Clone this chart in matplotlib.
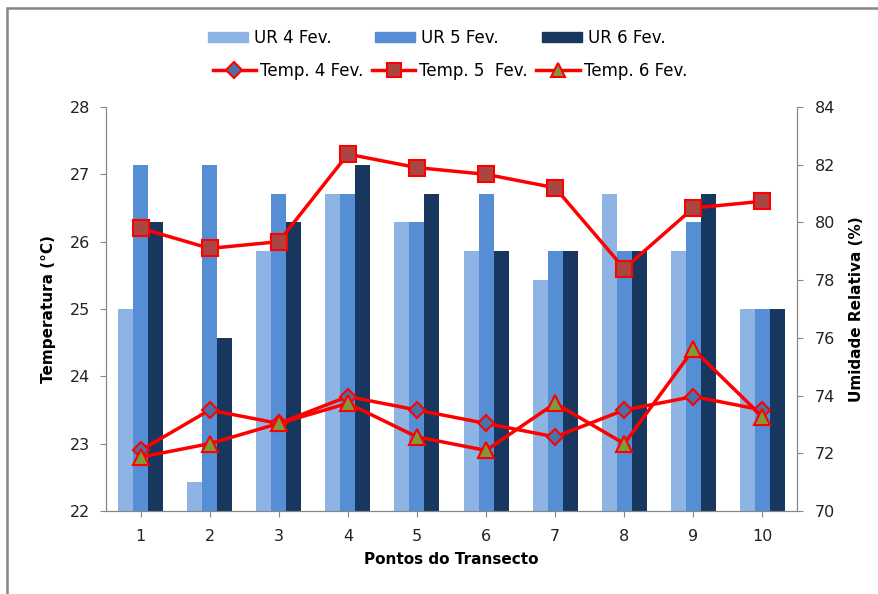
import numpy as np
import matplotlib.pyplot as plt
from matplotlib.lines import Line2D
from matplotlib.patches import Patch, Rectangle

plt.rcParams['font.family'] = ['DejaVu Sans']

# Data
pontos = [1, 2, 3, 4, 5, 6, 7, 8, 9, 10]
ur_4 = [77, 71, 79, 81, 80, 79, 78, 81, 79, 77]
ur_5 = [82, 82, 81, 81, 80, 81, 79, 79, 80, 77]
ur_6 = [80, 76, 80, 82, 81, 79, 79, 79, 81, 77]
temp_4 = [22.9, 23.5, 23.3, 23.7, 23.5, 23.3, 23.1, 23.5, 23.7, 23.5]
temp_5 = [26.2, 25.9, 26.0, 27.3, 27.1, 27.0, 26.8, 25.6, 26.5, 26.6]
temp_6 = [22.8, 23.0, 23.3, 23.6, 23.1, 22.9, 23.6, 23.0, 24.4, 23.4]

gray = '#868686'
txt = '#222222'
c_ur = ['#8EB4E3', '#558ED5', '#17375E']
red = '#FF0000'

fig = plt.figure(figsize=(8.79, 5.94), dpi=100)
ax = fig.add_axes([106 / 879, 1 - 511 / 594, (797 - 106) / 879, (511 - 107) / 594])
ax2 = ax.twinx()

# bars (relative humidity) on the secondary axis, behind the lines
x = np.arange(len(pontos))
w = 0.217
for i, (vals, col) in enumerate(zip([ur_4, ur_5, ur_6], c_ur)):
    ax2.bar(x + (i - 1) * w, np.array(vals) - 70, bottom=70, width=w, color=col, zorder=2)
ax2.set_ylim(70, 84)
ax2.set_yticks(range(70, 85, 2))

ax.set_zorder(ax2.get_zorder() + 1)
ax.patch.set_visible(False)

# temperature lines
ax.plot(x, temp_4, color=red, lw=2.5, marker='D', ms=8, mfc='#4A72A8', mec=red, mew=1.5, zorder=5)
ax.plot(x, temp_5, color=red, lw=2.5, marker='s', ms=11, mfc='#AA4542', mec=red, mew=1.5, zorder=5)
ax.plot(x, temp_6, color=red, lw=2.5, marker='^', ms=11, mfc='#7F9A3A', mec=red, mew=1.5, zorder=5)
ax.set_ylim(22, 28)
ax.set_xlim(-0.5, len(pontos) - 0.5)
ax.set_xticks(x)
ax.set_xticklabels([str(p) for p in pontos])

for a in (ax, ax2):
    a.spines['top'].set_visible(False)
    for s in ('left', 'right', 'bottom'):
        a.spines[s].set_color(gray)
ax.tick_params(axis='y', colors=gray, labelcolor=txt, labelsize=11.5, length=4.5, pad=7)
ax.tick_params(axis='x', colors=gray, labelcolor=txt, labelsize=11.5, length=4, pad=9)
ax2.tick_params(axis='y', colors=gray, labelcolor=txt, labelsize=11.5, length=4, pad=9)

ax.set_ylabel('Temperatura (°C)', fontsize=11, fontweight='bold', labelpad=10, color='black')
ax2.set_ylabel('Umidade Relativa (%)', fontsize=11, fontweight='bold', labelpad=10, color='black')
ax.set_xlabel('Pontos do Transecto', fontsize=11, fontweight='bold', labelpad=6, color='black')

# legends
bar_handles = [Patch(color=c) for c in c_ur]
fig.legend(bar_handles, ['UR 4 Fev.', 'UR 5 Fev.', 'UR 6 Fev.'],
           loc='center', bbox_to_anchor=(0.497, 1 - 38 / 594), ncol=3, frameon=False,
           fontsize=12, handlelength=2.4, handleheight=0.55, columnspacing=2.6,
           handletextpad=0.35)
line_handles = [
    Line2D([], [], color=red, lw=2.5, marker='D', ms=8, mfc='#4A72A8', mec=red, mew=1.5),
    Line2D([], [], color=red, lw=2.5, marker='s', ms=10, mfc='#AA4542', mec=red, mew=1.5),
    Line2D([], [], color=red, lw=2.5, marker='^', ms=10, mfc='#7F9A3A', mec=red, mew=1.5),
]
fig.legend(line_handles, ['Temp. 4 Fev.', 'Temp. 5  Fev.', 'Temp. 6 Fev.'],
           loc='center', bbox_to_anchor=(0.512, 1 - 71 / 594), ncol=3, frameon=False,
           fontsize=12, handlelength=2.6, columnspacing=0.5, handletextpad=0.25)

# outer chart frame
fig.patches.append(Rectangle((7 / 879, -0.1), 1.2, 1 - 8 / 594 + 0.1, transform=fig.transFigure,
                             fill=False, edgecolor=gray, lw=1.8))

fig.savefig('out.png', dpi=100)
